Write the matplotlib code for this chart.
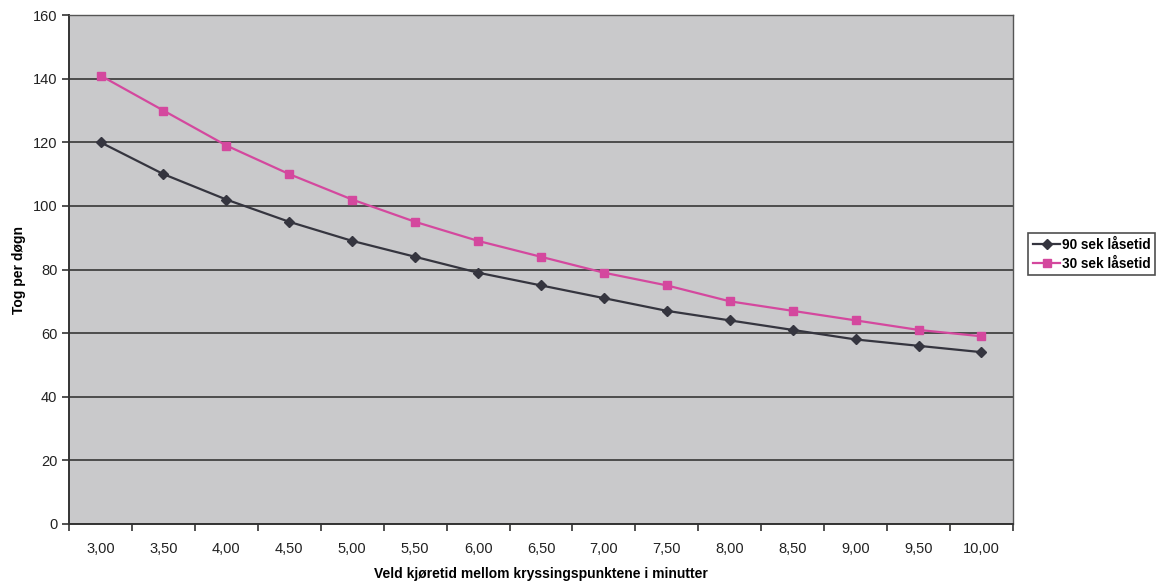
import matplotlib
matplotlib.use("Agg")
import matplotlib.pyplot as plt
from matplotlib.ticker import FixedLocator
import numpy as np

# data
minutter = ["3,00", "3,50", "4,00", "4,50", "5,00", "5,50", "6,00", "6,50",
            "7,00", "7,50", "8,00", "8,50", "9,00", "9,50", "10,00"]
tog_90 = [120, 110, 102, 95, 89, 84, 79, 75, 71, 67, 64, 61, 58, 56, 54]
tog_30 = [141, 130, 119, 110, 102, 95, 89, 84, 79, 75, 70, 67, 64, 61, 59]

plt.rcParams['font.family'] = ['Liberation Sans', 'DejaVu Sans']

fig = plt.figure(figsize=(11.71, 5.84), dpi=100)
ax = fig.add_axes([0.059, 0.103, 0.806, 0.871])
ax.set_facecolor('#c9c9cb')

x = np.arange(len(minutter))
ax.plot(x, tog_90, color='#35353f', lw=1.6, marker='D', ms=5.5, label='90 sek låsetid', zorder=3)
ax.plot(x, tog_30, color='#d4489e', lw=1.6, marker='s', ms=6, label='30 sek låsetid', zorder=3)

ax.set_xlim(-0.5, len(minutter) - 0.5)
ax.set_ylim(0, 160)
ax.set_yticks(range(0, 161, 20))
ax.yaxis.grid(True, color='#2a2a2a', lw=1.1)
ax.set_axisbelow(True)

ax.set_xticks(x)
ax.set_xticklabels(minutter, fontsize=10.5, color='#222222')
ax.xaxis.set_minor_locator(FixedLocator(np.arange(-0.5, len(minutter), 1.0)))
ax.tick_params(axis='x', which='major', length=0, pad=13)
ax.tick_params(axis='x', which='minor', length=5, width=1.2, color='#333333')
ax.tick_params(axis='y', length=5, width=1.2, color='#333333', labelsize=10.5, labelcolor='#222222')

for s in ['left', 'bottom']:
    ax.spines[s].set_color('#333333')
    ax.spines[s].set_linewidth(1.4)
for s in ['top', 'right']:
    ax.spines[s].set_color('#555555')
    ax.spines[s].set_linewidth(1.0)

ax.set_xlabel('Veld kjøretid mellom kryssingspunktene i minutter', fontsize=10,
              fontweight='bold', labelpad=8)
ax.set_ylabel('Tog per døgn', fontsize=10, fontweight='bold', labelpad=5)

leg = ax.legend(loc='center left', bbox_to_anchor=(1.012, 0.53), fontsize=9.8,
                frameon=True, fancybox=False, handlelength=2.0, handletextpad=0.1,
                borderpad=0.35, labelspacing=0.35, borderaxespad=0.3)
leg.get_frame().set_edgecolor('#222222')
leg.get_frame().set_linewidth(1.2)
for t in leg.get_texts():
    t.set_fontweight('bold')

fig.savefig('out.png', dpi=100, facecolor='white')
